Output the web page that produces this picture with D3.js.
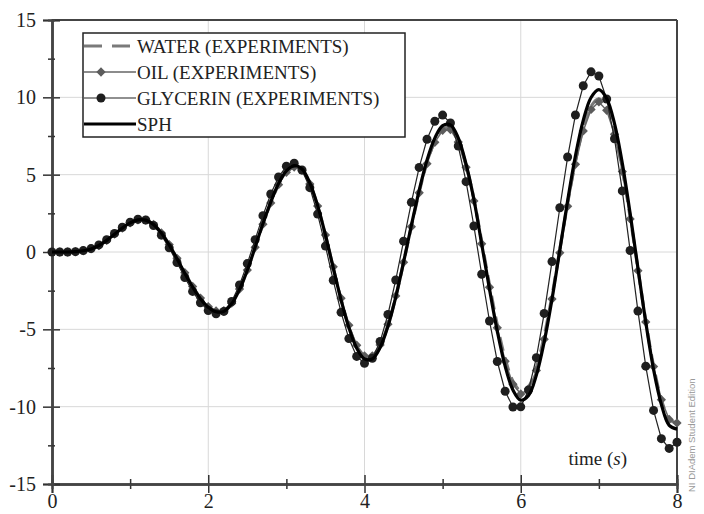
<!DOCTYPE html>
<html>
<head>
<meta charset="utf-8">
<script src="https://cdn.jsdelivr.net/npm/d3@7"></script>
<style>
  body { margin: 0; background: #fff; }
  .axis path, .axis line { stroke: #444; }
  .axis text { font-family: "Liberation Serif", "Times New Roman", serif; fill: #222; }
</style>
</head>
<body>
<div id="myGraph"></div>
<script>
// sample times (s)
var times = [0,0.1,0.2,0.3,0.4,0.5,0.6,0.7,0.8,0.9,1,1.1,1.2,1.3,1.4,1.5,1.6,1.7,1.8,1.9,2,
  2.1,2.2,2.3,2.4,2.5,2.6,2.7,2.8,2.9,3,3.1,3.2,3.3,3.4,3.5,3.6,3.7,3.8,3.9,4,
  4.1,4.2,4.3,4.4,4.5,4.6,4.7,4.8,4.9,5,5.1,5.2,5.3,5.4,5.5,5.6,5.7,5.8,5.9,6,
  6.1,6.2,6.3,6.4,6.5,6.6,6.7,6.8,6.9,7,7.1,7.2,7.3,7.4,7.5,7.6,7.7,7.8,7.9,8];

var water = [0,0,0,0.02,0.08,0.2,0.42,0.75,1.15,1.55,1.88,2.08,
  2.06,1.78,1.23,0.48,-0.41,-1.34,-2.23,-2.98,-3.53,-3.81,
  -3.79,-3.31,-2.40,-1.17,0.30,1.80,3.17,4.35,5.15,5.49,
  5.28,4.39,2.95,1.07,-1.02,-3.06,-4.82,-6.12,-6.81,
  -6.81,-6.10,-4.74,-2.89,-0.68,1.65,3.87,5.78,7.18,7.97,
  8.02,7.22,5.60,3.43,0.67,-2.12,-4.73,-6.88,-8.35,-8.98,
  -8.69,-7.46,-5.44,-2.84,0.15,3.15,5.87,8.03,9.42,9.9,
  9.35,7.80,5.35,2.27,-1.11,-4.45,-7.37,-9.54,-10.83,-11.05];

var oil = [0,0,0,0.02,0.08,0.2,0.42,0.75,1.15,1.55,1.88,2.08,
  2.06,1.78,1.23,0.48,-0.41,-1.34,-2.23,-2.98,-3.53,-3.81,
  -3.79,-3.31,-2.40,-1.17,0.30,1.80,3.17,4.35,5.15,5.49,
  5.28,4.40,2.97,1.10,-0.96,-2.99,-4.73,-6.03,-6.71,
  -6.71,-6.01,-4.67,-2.84,-0.67,1.64,3.83,5.71,7.09,7.87,
  7.92,7.11,5.48,3.30,0.53,-2.28,-4.90,-7.07,-8.55,-9.18,
  -8.89,-7.66,-5.64,-3.04,-0.05,2.95,5.67,7.83,9.22,9.70,
  9.16,7.62,5.20,2.14,-1.21,-4.52,-7.41,-9.55,-10.83,-11.05];

var glycerin = [0,0,0,0.02,0.09,0.22,0.46,0.8,1.2,1.6,1.93,2.12,
  2.07,1.71,1.09,0.27,-0.68,-1.65,-2.55,-3.28,-3.78,-3.99,
  -3.84,-3.20,-2.13,-0.75,0.80,2.35,3.75,4.85,5.55,5.74,
  5.30,4.16,2.45,0.38,-1.83,-3.90,-5.60,-6.75,-7.19,
  -6.87,-5.79,-4.04,-1.81,0.70,3.21,5.47,7.29,8.45,8.85,
  8.34,6.85,4.55,1.68,-1.44,-4.46,-7.08,-9.00,-10.02,-10.01,
  -8.92,-6.83,-3.97,-0.62,2.86,6.14,8.86,10.75,11.65,11.38,
  9.89,7.32,3.95,0.10,-3.82,-7.38,-10.24,-12.07,-12.7,-12.3];

var sph = [0,0,0,0.02,0.08,0.2,0.42,0.75,1.15,1.55,1.88,2.08,
  2.06,1.77,1.22,0.46,-0.43,-1.37,-2.26,-3.02,-3.57,-3.86,
  -3.84,-3.35,-2.43,-1.18,0.31,1.84,3.23,4.43,5.24,5.59,
  5.37,4.47,3.00,1.10,-1.02,-3.09,-4.88,-6.21,-6.91,
  -6.91,-6.18,-4.80,-2.91,-0.66,1.72,3.99,5.94,7.36,8.17,
  8.22,7.38,5.68,3.41,0.52,-2.40,-5.13,-7.38,-8.92,-9.58,
  -9.27,-7.96,-5.81,-3.05,0.13,3.32,6.22,8.51,9.99,10.5,
  9.93,8.30,5.74,2.50,-1.04,-4.54,-7.60,-9.86,-11.21,-11.45];

var seriesNames = ["WATER (EXPERIMENTS)", "OIL (EXPERIMENTS)", "GLYCERIN (EXPERIMENTS)", "SPH"];
var xTicks = [0, 2, 4, 6, 8];
var xMinor = [1, 3, 5, 7];
var yTicks = [-15, -10, -5, 0, 5, 10, 15];
var yMinor = [-12.5, -7.5, -2.5, 2.5, 7.5, 12.5];
var xGrid = [2, 4, 6];
var yGrid = [-10, -5, 0, 5, 10];

var w = 704, h = 514;
var plotL = 52, plotR = 677, plotT = 20, plotB = 484;

var svg = d3.select("#myGraph").append("svg").attr("width", w).attr("height", h);

var x = d3.scaleLinear().domain([0, 8]).range([plotL, plotR]);
var y = d3.scaleLinear().domain([-15, 15]).range([plotB, plotT]);

// grid
svg.append("g").selectAll("line").data(xGrid).enter().append("line")
  .attr("x1", d => x(d)).attr("x2", d => x(d)).attr("y1", plotT).attr("y2", plotB)
  .style("stroke", "#d8d8d8").style("stroke-width", 1);
svg.append("g").selectAll("line").data(yGrid).enter().append("line")
  .attr("y1", d => y(d)).attr("y2", d => y(d)).attr("x1", plotL).attr("x2", plotR)
  .style("stroke", "#d8d8d8").style("stroke-width", 1);

// frame top/right
svg.append("line").attr("x1", plotL).attr("x2", plotR).attr("y1", plotT).attr("y2", plotT)
  .style("stroke", "#444").style("stroke-width", 2);
svg.append("line").attr("x1", plotR).attr("x2", plotR).attr("y1", plotT).attr("y2", plotB)
  .style("stroke", "#444").style("stroke-width", 2);

// axes
var fmt = d => String(d);
var gx = svg.append("g").attr("class", "axis").attr("transform", "translate(0," + plotB + ")");
gx.call(d3.axisBottom(x).tickValues(xTicks).tickSize(9).tickPadding(1).tickFormat(fmt));
gx.append("g").call(d3.axisTop(x).tickValues(xTicks).tickSize(9).tickFormat(""));
gx.append("g").call(d3.axisBottom(x).tickValues(xMinor).tickSize(5).tickFormat(""));
gx.append("g").call(d3.axisTop(x).tickValues(xMinor).tickSize(5).tickFormat(""));
gx.selectAll("text").style("font-size", "20px");

var gy = svg.append("g").attr("class", "axis").attr("transform", "translate(" + plotL + ",0)");
gy.call(d3.axisLeft(y).tickValues(yTicks).tickSize(9).tickPadding(7).tickFormat(fmt));
gy.append("g").call(d3.axisRight(y).tickValues(yTicks).tickSize(8).tickFormat(""));
gy.append("g").call(d3.axisLeft(y).tickValues(yMinor).tickSize(4).tickFormat(""));
gy.append("g").call(d3.axisRight(y).tickValues(yMinor).tickSize(3).tickFormat(""));
gy.selectAll("text").style("font-size", "20px");

svg.selectAll(".axis path.domain").style("stroke-width", 2);
svg.selectAll(".axis .tick line").style("stroke-width", 1.5).style("stroke", "#333");
svg.selectAll(".axis g g path.domain").remove();

var pts = function(vals) { return times.map((t, i) => [t, vals[i]]); };
var line = d3.line().x(d => x(d[0])).y(d => y(d[1])).curve(d3.curveCatmullRom);
var lineStraight = d3.line().x(d => x(d[0])).y(d => y(d[1]));

// water
svg.append("path").attr("d", line(pts(water)))
  .style("fill", "none").style("stroke", "#7a7a7a").style("stroke-width", 3.2)
  .style("stroke-dasharray", "14,7");

// oil
svg.append("path").attr("d", lineStraight(pts(oil)))
  .style("fill", "none").style("stroke", "#666").style("stroke-width", 1.5);
svg.append("g").selectAll("path").data(pts(oil)).enter().append("path")
  .attr("d", d3.symbol().type(d3.symbolDiamond2).size(55))
  .attr("transform", d => "translate(" + x(d[0]) + "," + y(d[1]) + ")")
  .style("fill", "#5c5c5c");

// glycerin
svg.append("path").attr("d", lineStraight(pts(glycerin)))
  .style("fill", "none").style("stroke", "#222").style("stroke-width", 1.2);
svg.append("g").selectAll("circle").data(pts(glycerin)).enter().append("circle")
  .attr("cx", d => x(d[0])).attr("cy", d => y(d[1])).attr("r", 4.5)
  .style("fill", "#1e1e1e");

// sph
svg.append("path").attr("d", line(pts(sph)))
  .style("fill", "none").style("stroke", "#000").style("stroke-width", 3.2);

// legend
var lg = svg.append("g");
lg.append("rect").attr("x", 83).attr("y", 33).attr("width", 322).attr("height", 104)
  .style("fill", "#fff").style("stroke", "#222").style("stroke-width", 1.5);
var rowY = [46, 72, 98, 124];
seriesNames.forEach(function(name, i) {
  var yy = rowY[i];
  var l = lg.append("line").attr("x1", 84).attr("x2", 136).attr("y1", yy).attr("y2", yy);
  if (i == 0) l.style("stroke", "#7a7a7a").style("stroke-width", 3.2).style("stroke-dasharray", "18,10");
  if (i == 1) l.style("stroke", "#666").style("stroke-width", 1.5);
  if (i == 2) l.style("stroke", "#222").style("stroke-width", 1.2);
  if (i == 3) l.style("stroke", "#000").style("stroke-width", 3.2);
  if (i == 1) lg.append("path").attr("d", d3.symbol().type(d3.symbolDiamond2).size(55)())
    .attr("transform", "translate(101," + yy + ")").style("fill", "#5c5c5c");
  if (i == 2) lg.append("circle").attr("cx", 101).attr("cy", yy).attr("r", 4.5).style("fill", "#1e1e1e");
  lg.append("text").text(name).attr("x", 137).attr("y", yy + 6.5)
    .style("font-family", "Liberation Serif").style("font-size", "19px").style("fill", "#222");
});

// axis title
var tl = svg.append("text").attr("x", 627).attr("y", 465).attr("text-anchor", "end")
  .style("font-family", "Liberation Serif").style("font-size", "19px").style("fill", "#222");
tl.append("tspan").text("time (");
tl.append("tspan").text("s").style("font-style", "italic");
tl.append("tspan").text(")");

// watermark
svg.append("text").text("NI DIAdem Student Edition")
  .attr("transform", "translate(695,492) rotate(-90)")
  .style("font-family", "Liberation Sans").style("font-size", "9.5px").style("fill", "#999");
</script>
</body>
</html>
